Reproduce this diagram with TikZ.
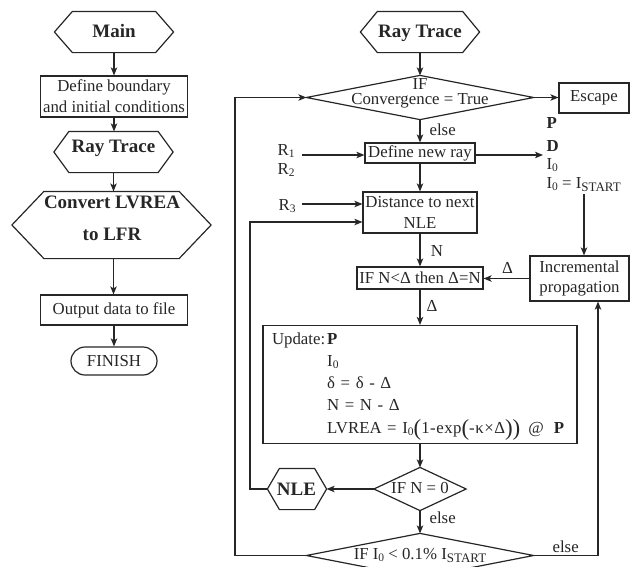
\documentclass[tikz,border=0pt]{standalone}
\usepackage{fontspec}
\setmainfont{Liberation Serif}
\usetikzlibrary{arrows.meta}
\definecolor{ln}{HTML}{262626}
\newcommand{\nf}{\fontsize{16.8}{20.7}\selectfont}
\newcommand{\bnf}{\fontsize{19}{29}\selectfont\bfseries}
\newcommand{\lowidx}[1]{\raisebox{-0.32ex}{\fontsize{11.5}{12}\selectfont #1}}
\newcommand{\lowcap}[1]{\raisebox{-0.45ex}{\fontsize{13}{13}\selectfont #1}}
\newcommand{\bigpar}[1]{\raisebox{-2.3pt}{\fontsize{23}{23}\selectfont #1}}
\newcommand{\hexdraw}[2]{\draw (#1.west) -- ([xshift=#2]#1.north west) -- ([xshift=-#2]#1.north east) -- (#1.east) -- ([xshift=-#2]#1.south east) -- ([xshift=#2]#1.south west) -- cycle;}
\newcommand{\diadraw}[1]{\draw (#1.north) -- (#1.east) -- (#1.south) -- (#1.west) -- cycle;}
\tikzset{
  box/.style={draw, inner sep=0pt, align=center, font=\nf},
  shp/.style={inner sep=0pt},
  lbl/.style={inner sep=0pt, font=\nf},
  blbl/.style={inner sep=0pt, font=\bnf},
  arr/.style={-{Stealth[length=8pt,width=6.5pt,inset=2pt]}},
}
\begin{document}
\begin{tikzpicture}[x=1pt,y=-1pt,line width=1.2pt,color=ln]
\clip (0,0) rectangle (630,566);
% ---------------- left column
\node[shp, minimum width=118, minimum height=40] (main) at (114,32) {};
\hexdraw{main}{18}
\node[blbl, anchor=base] at (114,37) {Main};
\node[box, minimum width=147, minimum height=41] (bound) at (114,96.5) {Define boundary\\and initial conditions};
\node[shp, minimum width=118, minimum height=40] (rta) at (113.5,152) {};
\hexdraw{rta}{15}
\node[blbl, anchor=base] at (113.5,152.5) {Ray Trace};
\node[shp, minimum width=198, minimum height=66] (conv) at (111.5,225) {};
\hexdraw{conv}{32}
\node[blbl, anchor=base] at (112,208) {Convert LVREA};
\node[blbl, anchor=base] at (112,240) {to LFR};
\node[box, minimum width=147, minimum height=30] (outp) at (114,310) {Output data to file};
\node[box, minimum width=86, minimum height=28, rounded corners=14pt] (fin) at (114,361) {FINISH};
\draw[arr] (main.south) -- (main.south |- bound.north);
\draw[arr] (bound.south) -- (bound.south |- rta.north);
\draw[arr] (rta.south) -- (rta.south |- conv.north);
\draw[arr] (rta.south |- conv.south) -- (rta.south |- outp.north);
\draw[arr] (outp.south) -- (outp.south |- fin.north);
% ---------------- right column
\node[shp, minimum width=118, minimum height=40] (rtb) at (420,32) {};
\hexdraw{rtb}{17}
\node[blbl, anchor=base] at (420,37) {Ray Trace};
\node[shp, minimum width=226, minimum height=43] (cvg) at (420,97.5) {};
\diadraw{cvg}
\node[lbl, anchor=base] at (420,89.5) {IF};
\node[lbl, anchor=base] at (420,104) {Convergence = True};
\node[box, minimum width=70, minimum height=30] (esc) at (594,98) {Escape};
\node[box, minimum width=110, minimum height=20] (ray) at (420,153) {Define new ray};
\node[lbl, anchor=base west] (r1) at (277,155) {R\lowidx{1}};
\node[lbl, anchor=base west] (r2) at (277,174) {R\lowidx{2}};
\node[lbl, anchor=base west] (pp) at (546,128) {\textbf{P}};
\node[lbl, anchor=base west] (dd) at (546,151) {\textbf{D}};
\node[lbl, anchor=base west] (ii) at (546,169) {I\lowidx{0}};
\node[lbl, anchor=base west] (is) at (546,188) {I\lowidx{0} = I\lowcap{START}};
\node[box, minimum width=114, minimum height=41] (dist) at (420,212.5) {Distance to next\\NLE};
\node[lbl, anchor=base west] (r3) at (278,210) {R\lowidx{3}};
\node[box, minimum width=126, minimum height=22] (ifn) at (420,278) {IF N<Δ then Δ=N};
\node[box, minimum width=99, minimum height=45] (inc) at (579.5,278.5) {Incremental\\propagation};
\node[box, minimum width=314, minimum height=118, text width=296pt, inner xsep=9pt, align=left] (upd) at (420,384.5)
  {\fontsize{16.8}{22.25}\selectfont\begin{tabular}{@{}l@{\hspace{2pt}}l@{}}
   Update: & \textbf{P}\\
   & I\lowidx{0}\\
   & δ = δ - Δ\\
   & N = N - Δ\\
   & LVREA = I\lowidx{0}{\addfontfeature{LetterSpace=3}\bigpar{(}1-exp\bigpar{(}-κ×Δ\bigpar{)}\bigpar{)}}\hspace{8pt}@\hspace{10pt}\textbf{P}
   \end{tabular}};
\node[shp, minimum width=91, minimum height=42] (ifz) at (420,489) {};
\diadraw{ifz}
\node[lbl, anchor=base] at (420,493.5) {IF N = 0};
\node[shp, minimum width=58, minimum height=40] (nle) at (297,489) {};
\hexdraw{nle}{12}
\node[blbl, anchor=base] at (296.5,495.5) {NLE};
\node[shp, minimum width=226, minimum height=43] (bot) at (420,555.5) {};
\diadraw{bot}
\node[lbl, anchor=base] at (420,559.5) {IF I\lowidx{0} < 0.1\% I\lowcap{START}};
% edge labels
\node[lbl, anchor=base west] (l1) at (429,135) {else};
\node[lbl, anchor=base] (l2) at (437,256) {N};
\node[lbl, anchor=base] (l3) at (432,311) {Δ};
\node[lbl, anchor=base] (l4) at (507.5,273) {Δ};
\node[lbl, anchor=base west] (l5) at (429,523) {else};
\node[lbl, anchor=base west] (l6) at (552,552) {else};
% helper coordinates
\coordinate (rin) at (302,155);
\coordinate (pin) at (543,155);
\coordinate (r3in) at (302,204);
\coordinate (istart) at (584,194);
\coordinate (lx) at (235,0);
\coordinate (rx) at (598,0);
\coordinate (nx) at (250,0);
\coordinate (dy) at (0,222);
% connectors
\draw[arr] (rtb.south) -- (cvg.north);
\draw[arr] (cvg.east) -- (cvg.east -| esc.west);
\draw[arr] (cvg.south) -- (ray.north);
\draw[arr] (rin) -- (rin -| ray.west);
\draw[arr] (pin -| ray.east) -- (pin);
\draw[arr] (ray.south) -- (dist.north);
\draw[arr] (r3in) -- (r3in -| dist.west);
\draw[arr] (dist.south) -- (ifn.north);
\draw[arr] (istart) -- (istart |- inc.north);
\draw[arr] (inc.west) -- (inc.west -| ifn.east);
\draw[arr] (ifn.south) -- (upd.north);
\draw[arr] (upd.south) -- (ifz.north);
\draw[arr] (ifz.west) -- (nle.east);
\draw[arr] (nle.west) -- (nle.west -| nx) -- (nx |- dy) -- (dy -| dist.west);
\draw[arr] (ifz.south) -- (bot.north);
\draw[arr] (bot.west) -- (bot.west -| lx) -- (lx |- cvg.west) -- (cvg.west);
\draw[arr] (bot.east) -- (bot.east -| rx) -- (rx |- inc.south);
\end{tikzpicture}
\end{document}
